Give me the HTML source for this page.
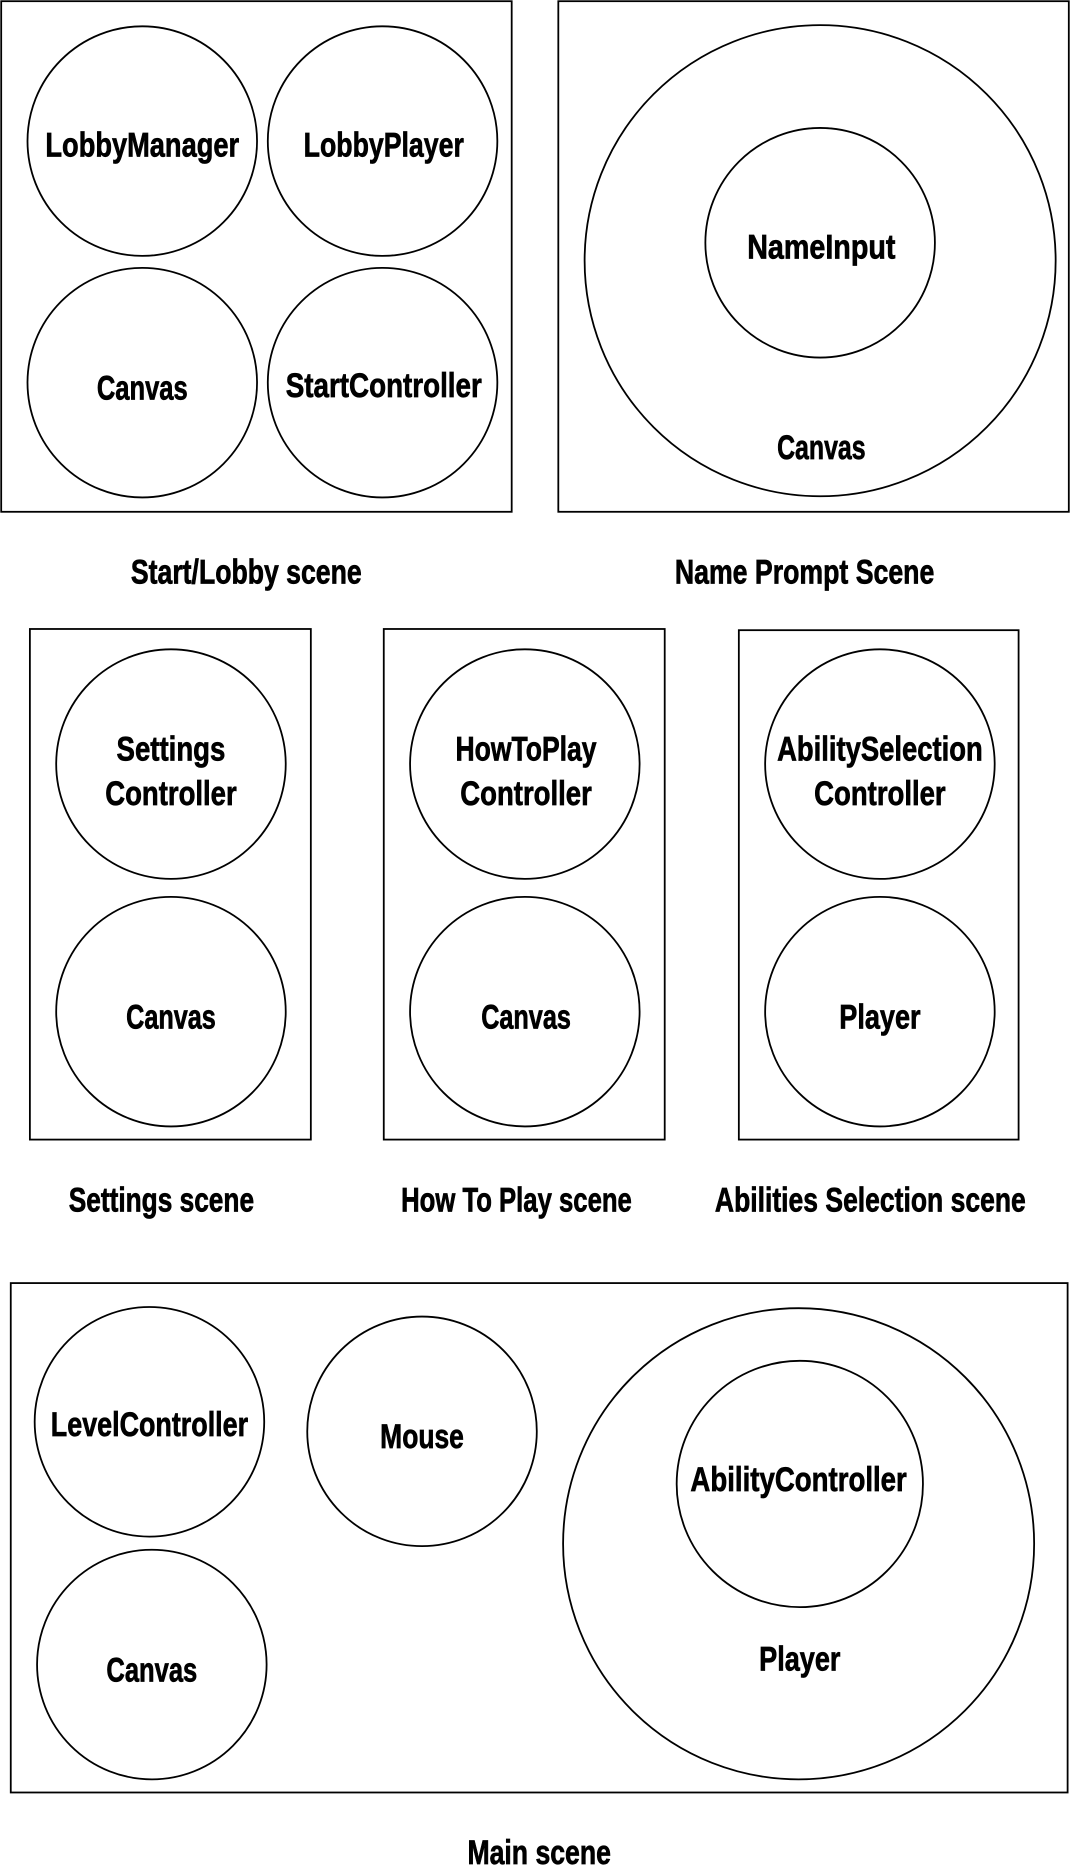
<!DOCTYPE html>
<html><head><meta charset="utf-8"><style>
html,body{margin:0;padding:0;background:#fff;}
svg{display:block;}
text{font-family:"Liberation Sans Narrow","Liberation Sans",sans-serif;font-weight:bold;font-size:29px;fill:#000;stroke:#000;stroke-width:0.6px;}
</style></head><body>
<svg width="1070" height="1875" viewBox="0 0 895 1568" preserveAspectRatio="none" xmlns="http://www.w3.org/2000/svg">
<g fill="none" stroke="#000" stroke-width="1.5">
<rect x="1" y="1" width="427" height="427"/>
<rect x="467" y="1" width="427" height="427"/>
<circle cx="119" cy="118" r="96"/>
<circle cx="320" cy="118" r="96"/>
<circle cx="119" cy="320" r="96"/>
<circle cx="320" cy="320" r="96"/>
<circle cx="686" cy="218" r="197"/>
<circle cx="686" cy="203" r="96"/>
<rect x="25" y="526" width="235" height="427"/>
<rect x="321" y="526" width="235" height="427"/>
<rect x="618" y="527" width="234" height="426"/>
<circle cx="143" cy="639" r="96"/>
<circle cx="143" cy="846" r="96"/>
<circle cx="439" cy="639" r="96"/>
<circle cx="439" cy="846" r="96"/>
<circle cx="736" cy="639" r="96"/>
<circle cx="736" cy="846" r="96"/>
<rect x="9" y="1073" width="884" height="426"/>
<circle cx="125" cy="1189" r="96"/>
<circle cx="353" cy="1197" r="96"/>
<circle cx="127" cy="1392" r="96"/>
<circle cx="668" cy="1291" r="197"/>
<circle cx="669" cy="1241" r="103"/>
</g>
<g text-anchor="middle">
<text x="119" y="131" textLength="162" lengthAdjust="spacingAndGlyphs">LobbyManager</text>
<text x="321" y="131" textLength="134" lengthAdjust="spacingAndGlyphs">LobbyPlayer</text>
<text x="119" y="334" textLength="76" lengthAdjust="spacingAndGlyphs">Canvas</text>
<text x="321" y="332" textLength="164" lengthAdjust="spacingAndGlyphs">StartController</text>
<text x="687" y="216" textLength="124" lengthAdjust="spacingAndGlyphs">NameInput</text>
<text x="687" y="384" textLength="74" lengthAdjust="spacingAndGlyphs">Canvas</text>
<text x="206" y="488" textLength="193" lengthAdjust="spacingAndGlyphs">Start/Lobby scene</text>
<text x="673" y="488" textLength="217" lengthAdjust="spacingAndGlyphs">Name Prompt Scene</text>
<text x="143" y="636" textLength="91" lengthAdjust="spacingAndGlyphs">Settings</text>
<text x="143" y="673" textLength="110" lengthAdjust="spacingAndGlyphs">Controller</text>
<text x="143" y="860" textLength="75" lengthAdjust="spacingAndGlyphs">Canvas</text>
<text x="440" y="636" textLength="118" lengthAdjust="spacingAndGlyphs">HowToPlay</text>
<text x="440" y="673" textLength="110" lengthAdjust="spacingAndGlyphs">Controller</text>
<text x="440" y="860" textLength="75" lengthAdjust="spacingAndGlyphs">Canvas</text>
<text x="736" y="636" textLength="172" lengthAdjust="spacingAndGlyphs">AbilitySelection</text>
<text x="736" y="673" textLength="110" lengthAdjust="spacingAndGlyphs">Controller</text>
<text x="736" y="860" textLength="68" lengthAdjust="spacingAndGlyphs">Player</text>
<text x="135" y="1013" textLength="155" lengthAdjust="spacingAndGlyphs">Settings scene</text>
<text x="432" y="1013" textLength="193" lengthAdjust="spacingAndGlyphs">How To Play scene</text>
<text x="728" y="1013" textLength="260" lengthAdjust="spacingAndGlyphs">Abilities Selection scene</text>
<text x="125" y="1201" textLength="165" lengthAdjust="spacingAndGlyphs">LevelController</text>
<text x="353" y="1211" textLength="70" lengthAdjust="spacingAndGlyphs">Mouse</text>
<text x="127" y="1406" textLength="76" lengthAdjust="spacingAndGlyphs">Canvas</text>
<text x="668" y="1247" textLength="181" lengthAdjust="spacingAndGlyphs">AbilityController</text>
<text x="669" y="1397" textLength="68" lengthAdjust="spacingAndGlyphs">Player</text>
<text x="451" y="1559" textLength="120" lengthAdjust="spacingAndGlyphs">Main scene</text>
</g>
</svg>
</body></html>
